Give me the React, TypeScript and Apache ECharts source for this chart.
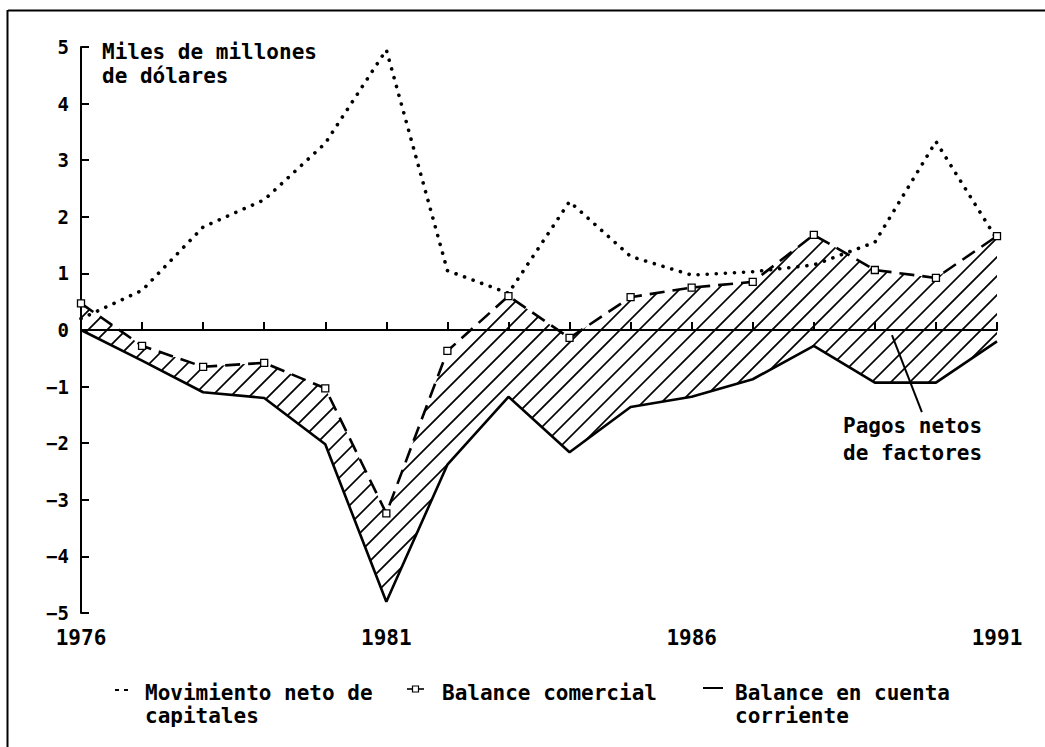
import React, { useEffect, useRef } from 'react';
import * as echarts from 'echarts';

const years = [1976, 1977, 1978, 1979, 1980, 1981, 1982, 1983, 1984, 1985, 1986, 1987, 1988, 1989, 1990, 1991];
const capitales = [0.2, 0.7, 1.82, 2.3, 3.3, 4.95, 1.05, 0.65, 2.27, 1.3, 0.97, 1.03, 1.15, 1.55, 3.33, 1.6];
const comercial = [0.47, -0.28, -0.65, -0.58, -1.03, -3.24, -0.37, 0.6, -0.14, 0.58, 0.75, 0.85, 1.68, 1.06, 0.92, 1.66];
const corriente = [0, -0.54, -1.1, -1.2, -2.02, -4.8, -2.38, -1.18, -2.16, -1.36, -1.18, -0.87, -0.28, -0.93, -0.93, -0.2];
const labelYears = [1976, 1981, 1986, 1991];

const FONT = '"DejaVu Sans Mono", monospace';
const HATCH_GAP = 19;

function txt(text: string, x: number, y: number, size = 21, weight = 'bold') {
  return {
    type: 'text',
    x,
    y,
    silent: true,
    style: { text, fill: '#000', fontFamily: FONT, fontSize: size, fontWeight: weight, verticalAlign: 'middle', align: 'left' },
  };
}

function ln(x1: number, y1: number, x2: number, y2: number, w = 2) {
  return { type: 'line', silent: true, shape: { x1, y1, x2, y2 }, style: { stroke: '#000', lineWidth: w } };
}

function renderHatch(_params: any, api: any) {
  const top = years.map((y, i) => api.coord([y, comercial[i]]));
  const bot = years.map((y, i) => api.coord([y, corriente[i]])).reverse();
  const pts = top.concat(bot);
  let minX = Infinity, minY = Infinity, maxX = -Infinity, maxY = -Infinity;
  for (const p of pts) {
    minX = Math.min(minX, p[0]);
    maxX = Math.max(maxX, p[0]);
    minY = Math.min(minY, p[1]);
    maxY = Math.max(maxY, p[1]);
  }
  const children: any[] = [];
  const start = Math.floor((minX + minY) / HATCH_GAP) * HATCH_GAP;
  for (let c = start; c <= maxX + maxY + HATCH_GAP; c += HATCH_GAP) {
    children.push({
      type: 'line',
      shape: { x1: c - maxY - 2, y1: maxY + 2, x2: c - minY + 2, y2: minY - 2 },
      style: { stroke: '#000', lineWidth: 1.7 },
    });
  }
  return {
    type: 'group',
    clipPath: { type: 'polygon', shape: { points: pts } },
    children,
  };
}

export default function App() {
  const ref = useRef<HTMLDivElement>(null);
  useEffect(() => {
    if (!ref.current) return;
    const chart = echarts.init(ref.current, undefined, { renderer: 'svg' });
    const pair = (arr: number[]) => years.map((y, i) => [y, arr[i]]);
    const option: any = {
      animation: false,
      backgroundColor: '#fff',
      grid: { left: 81, right: 48, top: 47, bottom: 134 },
      xAxis: {
        type: 'value',
        min: 1976,
        max: 1991,
        interval: 1,
        axisLine: { show: true, lineStyle: { color: '#000', width: 2 } },
        axisTick: { show: true, inside: true, length: 8, lineStyle: { color: '#000', width: 2 } },
        axisLabel: {
          formatter: (v: number) => (labelYears.includes(v) ? String(v) : ''),
          color: '#000',
          fontFamily: FONT,
          fontWeight: 'bold',
          fontSize: 21,
          margin: 14,
          showMinLabel: true,
          showMaxLabel: true,
        },
        splitLine: { show: false },
      },
      yAxis: {
        type: 'value',
        min: -5,
        max: 5,
        interval: 1,
        axisLine: { show: true, lineStyle: { color: '#000', width: 2 } },
        axisTick: { show: true, inside: true, length: 8, lineStyle: { color: '#000', width: 2 } },
        axisLabel: {
          formatter: (v: number) => (v < 0 ? '\u2212' + Math.abs(v) : String(v)),
          color: '#000',
          fontFamily: FONT,
          fontWeight: 'bold',
          fontSize: 19,
          margin: 12,
        },
        splitLine: { show: false },
      },
      series: [
        {
          name: 'Pagos netos de factores',
          type: 'custom',
          coordinateSystem: 'cartesian2d',
          silent: true,
          data: [[years[0], 0]],
          renderItem: renderHatch,
          z: 2,
        },
        {
          name: 'Balance en cuenta corriente',
          type: 'line',
          data: pair(corriente),
          symbol: 'none',
          silent: true,
          lineStyle: { color: '#000', width: 2.6 },
          z: 4,
        },
        {
          name: 'Balance comercial',
          type: 'line',
          data: pair(comercial),
          symbol: 'rect',
          symbolSize: 7,
          silent: true,
          itemStyle: { color: '#fff', borderColor: '#000', borderWidth: 1.3 },
          lineStyle: { color: '#000', width: 2.6, type: [15, 8] },
          z: 5,
        },
        {
          name: 'Movimiento neto de capitales',
          type: 'line',
          data: pair(capitales),
          symbol: 'none',
          silent: true,
          lineStyle: { color: '#000', width: 3.6, type: [0.1, 9], cap: 'round' },
          z: 5,
          markLine: {
            silent: true,
            symbol: 'none',
            label: { show: false },
            lineStyle: { color: '#000', width: 2, type: 'solid' },
            data: [
              { yAxis: 0 },
              [{ coord: [1989.28, -0.09] }, { coord: [1989.77, -1.45] }],
            ],
          },
        },
      ],
      graphic: [
        ln(8, 10.5, 1045, 10.5, 2),
        ln(7.5, 10, 7.5, 747, 2),
        txt('Miles de millones', 102, 52),
        txt('de dólares', 102, 76),
        txt('Pagos netos', 843, 426),
        txt('de factores', 843, 453),
        ln(115, 690, 119, 690, 2),
        ln(124, 690, 128, 690, 2),
        txt('Movimiento neto de', 145, 693),
        txt('capitales', 145, 716),
        ln(407, 689, 424, 689, 1.6),
        { type: 'rect', silent: true, shape: { x: 412.5, y: 686, width: 6, height: 6 }, style: { fill: '#fff', stroke: '#000', lineWidth: 1.2 } },
        txt('Balance comercial', 442, 693),
        ln(703, 688, 723, 688, 2),
        txt('Balance en cuenta', 735, 693),
        txt('corriente', 735, 716),
      ],
    };
    chart.setOption(option);
    return () => chart.dispose();
  }, []);
  return (
    <div
      ref={ref}
      style={{ position: 'fixed', left: 0, top: 0, width: 1045, height: 747, background: '#fff' }}
    />
  );
}
